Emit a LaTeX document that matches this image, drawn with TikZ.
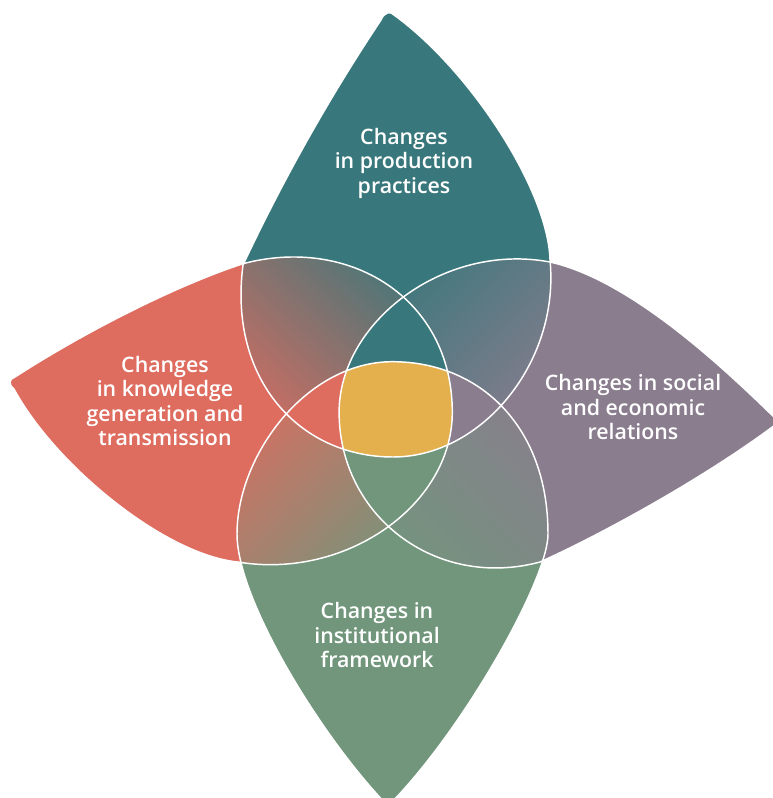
\documentclass[tikz,border=0pt]{standalone}
\usepackage{fontspec}
\setmainfont{Open Sans}[BoldFont={Open Sans Semibold}]
\usetikzlibrary{shadings}

\definecolor{tealP}{RGB}{56,119,123}
\definecolor{redP}{RGB}{222,108,95}
\definecolor{purpleP}{RGB}{138,125,142}
\definecolor{greenP}{RGB}{113,150,124}
\definecolor{yellowC}{RGB}{228,176,78}

\tikzset{
  outline/.style={draw=white, line width=1.1pt},
  petaltext/.style={text=white, align=center, inner sep=0pt,
    font=\bfseries\fontsize{16}{18.4}\selectfont}
}

% petal outlines
\def\petalTop{(381,20) .. controls (329,98) and (283,180) .. (243,265) .. controls (228,380) and (300,457) .. (393,457) .. controls (482,457) and (560,362) .. (550,260) .. controls (548,190) and (470,70) .. (394,15) .. controls (391,11) and (384,12) .. (381,20) -- cycle}
\def\petalLeft{(15,377) .. controls (80,335) and (170,288) .. (242,264) .. controls (348.6,235) and (452.3,298) .. (452.3,412.2) .. controls (452.3,505) and (345.8,580) .. (238,562) .. controls (165,555) and (55,465) .. (14,389) .. controls (8,384) and (9,379) .. (15,377) -- cycle}
\def\petalRight{(550,262) .. controls (443.1,242) and (339.1,323) .. (339.1,412.2) .. controls (339.1,516) and (435.8,590) .. (540,562) .. controls (600,535) and (705,478) .. (779,422) .. controls (722,366) and (630,280) .. (550,262) -- cycle}
\def\petalBottom{(388,806) .. controls (322,738) and (237,600) .. (237,534) .. controls (237,455) and (306.6,361.7) .. (392.5,361.7) .. controls (478.4,361.7) and (548,425) .. (548,534) .. controls (548,580) and (462,732) .. (388,806) -- cycle}

\begin{document}
\begin{tikzpicture}[x=0.75pt,y=0.75pt,yscale=-1,xscale=1]
%Shape: Background
\fill[white] (0,0) rectangle (773,798);
\useasboundingbox (0,0) rectangle (773,798);

%Shape: Petal top
\fill[tealP] \petalTop;
%Shape: Petal left
\fill[redP] \petalLeft;
%Shape: Petal right
\fill[purpleP] \petalRight;
%Shape: Petal bottom
\fill[greenP] \petalBottom;

%Shape: Overlap top-left
\begin{scope}
\clip \petalTop; \clip \petalLeft;
\shade[upper left=redP!50!tealP, upper right=tealP, lower left=redP, lower right=redP!50!tealP] (230,250) rectangle (410,420);
\end{scope}
%Shape: Overlap top-right
\begin{scope}
\clip \petalTop; \clip \petalRight;
\shade[upper left=tealP, upper right=tealP!50!purpleP, lower left=tealP!50!purpleP, lower right=purpleP] (398,250) rectangle (555,410);
\end{scope}
%Shape: Overlap bottom-left
\begin{scope}
\clip \petalBottom; \clip \petalLeft;
\shade[upper left=redP, upper right=redP!50!greenP, lower left=redP!50!greenP, lower right=greenP] (230,405) rectangle (395,575);
\end{scope}
%Shape: Overlap bottom-right
\begin{scope}
\clip \petalBottom; \clip \petalRight;
\shade[upper left=greenP!50!purpleP, upper right=purpleP, lower left=greenP, lower right=greenP!50!purpleP] (385,400) rectangle (555,575);
\end{scope}

%Shape: Three-way overlaps
\begin{scope}
\clip \petalTop; \clip \petalLeft; \clip \petalRight;
\fill[tealP] (230,250) rectangle (560,580);
\end{scope}
\begin{scope}
\clip \petalLeft; \clip \petalTop; \clip \petalBottom;
\fill[redP] (230,250) rectangle (560,580);
\end{scope}
\begin{scope}
\clip \petalRight; \clip \petalTop; \clip \petalBottom;
\fill[purpleP] (230,250) rectangle (560,580);
\end{scope}
\begin{scope}
\clip \petalBottom; \clip \petalLeft; \clip \petalRight;
\fill[greenP] (230,250) rectangle (560,580);
\end{scope}

%Shape: Centre
\begin{scope}
\clip \petalTop; \clip \petalLeft; \clip \petalRight; \clip \petalBottom;
\fill[yellowC] (230,250) rectangle (560,580);
\end{scope}

%Shape: White outlines
\path[outline] \petalTop;
\path[outline] \petalLeft;
\path[outline] \petalRight;
\path[outline] \petalBottom;

% Text Node
\draw (404,163) node [petaltext] (txtTop) {Changes\\in production\\practices};
% Text Node
\draw (165,401) node [petaltext] (txtLeft) {Changes\\in knowledge\\generation and\\transmission};
% Text Node
\draw (633,407) node [petaltext] (txtRight) {Changes in social\\and economic\\relations};
% Text Node
\draw (377,635) node [petaltext] (txtBottom) {Changes in\\institutional\\framework};
\end{tikzpicture}
\end{document}
